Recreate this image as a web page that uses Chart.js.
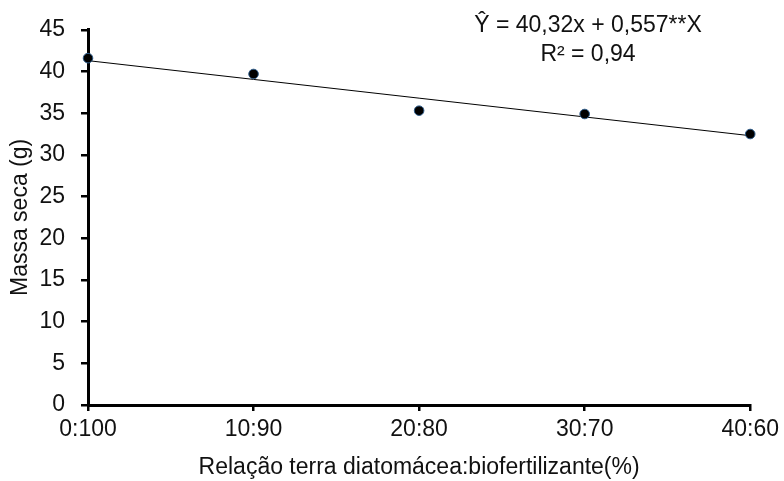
<!DOCTYPE html>
<html>
<head>
<meta charset="utf-8">
<script src="https://cdn.jsdelivr.net/npm/chart.js@4"></script>
<style>
html,body{margin:0;padding:0;background:#fff;}
#wrap{width:784px;height:481px;position:relative;}
</style>
</head>
<body>
<div id="wrap"><canvas id="c" width="784" height="481"></canvas></div>
<script>
const categories = ['0:100', '10:90', '20:80', '30:70', '40:60'];
const massaSeca = [41.6, 39.7, 35.3, 34.9, 32.5];
const trendLine = [41.3, 39.05, 36.8, 34.55, 32.3];
const yTicks = [0, 5, 10, 15, 20, 25, 30, 35, 40, 45];
const equationLines = ['Ŷ = 40,32x + 0,557**X', 'R² = 0,94'];

const FONT = "'Liberation Sans', Arial, sans-serif";

const equationPlugin = {
  id: 'equation',
  afterDraw(chart) {
    const ctx = chart.ctx;
    ctx.save();
    ctx.fillStyle = '#111';
    ctx.font = '23px ' + FONT;
    ctx.textAlign = 'center';
    ctx.textBaseline = 'middle';
    ctx.fillText(equationLines[0], 588, 26);
    ctx.fillText(equationLines[1], 588, 55);
    ctx.restore();
  }
};

new Chart(document.getElementById('c'), {
  type: 'line',
  data: {
    labels: categories,
    datasets: [
      {
        label: 'Tendência',
        data: trendLine,
        borderColor: '#000',
        borderWidth: 1,
        pointRadius: 0,
        fill: false,
        tension: 0,
        order: 2
      },
      {
        label: 'Massa seca',
        data: massaSeca,
        showLine: false,
        pointRadius: 4.8,
        pointBackgroundColor: '#000',
        pointBorderColor: '#2E5C8A',
        pointBorderWidth: 1,
        order: 1
      }
    ]
  },
  options: {
    responsive: false,
    animation: false,
    layout: { padding: { top: 29, right: 28, left: 0, bottom: 0 } },
    plugins: {
      legend: { display: false },
      tooltip: { enabled: false }
    },
    scales: {
      x: {
        type: 'category',
        offset: false,
        border: { color: '#000', width: 3 },
        grid: { drawOnChartArea: false, color: '#000', lineWidth: 2.5, tickLength: 6 },
        ticks: { color: '#111', font: { family: FONT, size: 23 }, padding: 5, maxRotation: 0, autoSkip: false },
        title: { display: true, text: 'Relação terra diatomácea:biofertilizante(%)', color: '#111', font: { family: FONT, size: 23 }, padding: { top: 0, bottom: 0 } },
        afterFit(scale) { scale.height = 76; }
      },
      y: {
        min: 0,
        max: 45,
        afterBuildTicks(scale) { scale.ticks = yTicks.map(v => ({ value: v })); },
        border: { color: '#000', width: 3 },
        grid: { drawOnChartArea: false, color: '#000', lineWidth: 2.5, tickLength: 7 },
        ticks: { color: '#111', font: { family: FONT, size: 23 }, padding: 16 },
        title: { display: true, text: 'Massa seca (g)', color: '#111', font: { family: FONT, size: 23 }, padding: { top: 7, bottom: 0 } },
        afterFit(scale) { scale.width = 88; }
      }
    }
  },
  plugins: [equationPlugin]
});
</script>
</body>
</html>
